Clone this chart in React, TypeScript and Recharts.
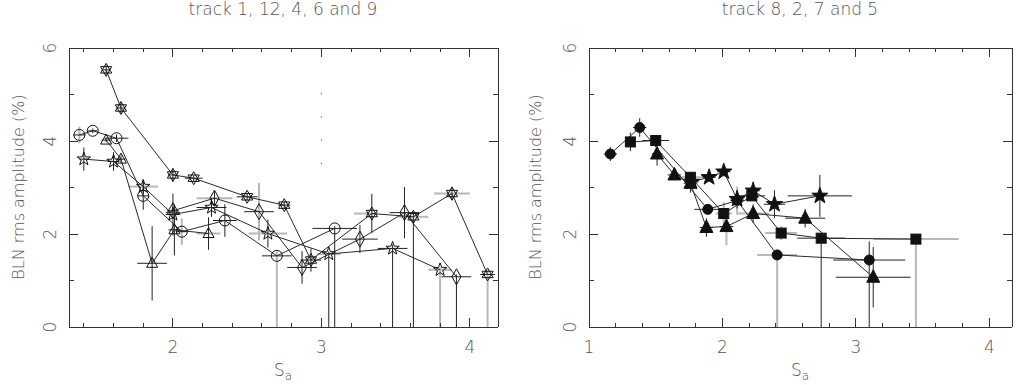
import React from "react";
import { ScatterChart, Scatter, XAxis, YAxis, ErrorBar, ReferenceLine } from "recharts";

type Pt = { x: number; y: number; ex: number | number[]; ey: number | number[]; g?: string };

// left panel: tracks 1, 12, 4, 6 and 9 (open symbols)
// g marks which error bars are drawn light grey ("x", "y" or "xy")
const hexagramTrack: Pt[] = [
  { x: 1.55, y: 5.53, ex: 0.02, ey: 0.1 },
  { x: 1.65, y: 4.71, ex: 0.02, ey: 0.12 },
  { x: 2.0, y: 3.27, ex: 0.03, ey: 0.14 },
  { x: 2.14, y: 3.2, ex: 0.06, ey: 0.06 },
  { x: 2.5, y: 2.8, ex: 0.07, ey: 0.08 },
  { x: 2.75, y: 2.62, ex: 0.04, ey: 0.08 },
  { x: 2.93, y: 1.44, ex: 0.07, ey: 0.25 },
  { x: 3.34, y: 2.44, ex: [0.12, 0.04], ey: 0.42, g: "x" },
  { x: 3.62, y: 2.37, ex: 0.1, ey: [2.37, 0.1], g: "x" },
  { x: 3.88, y: 2.87, ex: 0.12, ey: 0.15, g: "x" },
  { x: 4.12, y: 1.13, ex: 0.05, ey: [1.13, 0.08], g: "y" },
];
const circleTrack: Pt[] = [
  { x: 1.37, y: 4.13, ex: 0.04, ey: 0.18, g: "y" },
  { x: 1.46, y: 4.22, ex: 0.03, ey: 0.05 },
  { x: 1.62, y: 4.06, ex: 0.08, ey: 0.08 },
  { x: 1.8, y: 2.82, ex: 0.04, ey: 0.3 },
  { x: 2.06, y: 2.05, ex: 0.04, ey: 0.28, g: "y" },
  { x: 2.35, y: 2.29, ex: 0.08, ey: 0.35 },
  { x: 2.7, y: 1.53, ex: 0.1, ey: [1.53, 0.1], g: "y" },
  { x: 3.09, y: 2.12, ex: 0.15, ey: [2.12, 0.05] },
];
const triangleTrack: Pt[] = [
  { x: 1.55, y: 4.02, ex: 0.03, ey: 0.05 },
  { x: 1.65, y: 3.61, ex: 0.03, ey: 0.08 },
  { x: 1.86, y: 1.37, ex: 0.1, ey: 0.8 },
  { x: 2.01, y: 2.09, ex: 0.04, ey: 0.55 },
  { x: 2.24, y: 2.01, ex: 0.08, ey: 0.35, g: "x" },
];
const starTrack: Pt[] = [
  { x: 1.4, y: 3.61, ex: 0.03, ey: 0.25 },
  { x: 1.6, y: 3.56, ex: 0.04, ey: 0.2 },
  { x: 1.8, y: 3.02, ex: 0.1, ey: 0.15, g: "x" },
  { x: 2.0, y: 2.42, ex: 0.05, ey: 0.45 },
  { x: 2.26, y: 2.57, ex: 0.1, ey: 0.2 },
  { x: 2.64, y: 2.01, ex: 0.13, ey: 0.3, g: "x" },
  { x: 3.05, y: 1.57, ex: 0.08, ey: [1.57, 0.05], g: "x" },
  { x: 3.48, y: 1.69, ex: 0.1, ey: [1.69, 0.08] },
  { x: 3.8, y: 1.23, ex: 0.08, ey: [1.23, 0.05], g: "xy" },
];
const diamondTrack: Pt[] = [
  { x: 2.0, y: 2.5, ex: 0.04, ey: 0.1 },
  { x: 2.28, y: 2.77, ex: 0.12, ey: 0.15, g: "x" },
  { x: 2.58, y: 2.48, ex: 0.1, ey: 0.62, g: "y" },
  { x: 2.87, y: 1.28, ex: 0.1, ey: 0.35 },
  { x: 3.26, y: 1.89, ex: 0.12, ey: 0.3 },
  { x: 3.56, y: 2.46, ex: 0.1, ey: 0.55 },
  { x: 3.91, y: 1.08, ex: 0.1, ey: [1.08, 0.05] },
];

// right panel: tracks 8, 2, 7 and 5 (filled symbols)
const dotTrack: Pt[] = [
  { x: 1.16, y: 3.72, ex: 0.05, ey: 0.15 },
  { x: 1.38, y: 4.29, ex: 0.05, ey: 0.2 },
  { x: 1.89, y: 2.53, ex: 0.1, ey: 0.1 },
  { x: 2.11, y: 2.72, ex: 0.05, ey: 0.3, g: "y" },
  { x: 2.41, y: 1.55, ex: 0.15, ey: [1.55, 0.05], g: "xy" },
  { x: 3.1, y: 1.44, ex: 0.27, ey: [1.44, 0.4] },
];
const squareTrack: Pt[] = [
  { x: 1.31, y: 3.98, ex: 0.04, ey: 0.2 },
  { x: 1.5, y: 4.01, ex: 0.1, ey: 0.08 },
  { x: 1.76, y: 3.22, ex: 0.1, ey: 0.1, g: "x" },
  { x: 2.01, y: 2.44, ex: 0.06, ey: 0.25, g: "xy" },
  { x: 2.22, y: 2.82, ex: 0.1, ey: 0.1 },
  { x: 2.44, y: 2.02, ex: 0.12, ey: 0.15, g: "xy" },
  { x: 2.74, y: 1.91, ex: 0.18, ey: [1.91, 0.05] },
  { x: 3.45, y: 1.89, ex: 0.32, ey: [1.89, 0.05], g: "xy" },
];
const solidTriangleTrack: Pt[] = [
  { x: 1.51, y: 3.72, ex: 0.04, ey: 0.25 },
  { x: 1.64, y: 3.27, ex: 0.05, ey: 0.1 },
  { x: 1.76, y: 3.09, ex: 0.05, ey: 0.2 },
  { x: 1.88, y: 2.14, ex: 0.05, ey: 0.2 },
  { x: 2.03, y: 2.16, ex: 0.05, ey: 0.4, g: "y" },
  { x: 2.23, y: 2.44, ex: 0.12, ey: 0.2, g: "x" },
  { x: 2.62, y: 2.34, ex: 0.15, ey: 0.2 },
  { x: 3.13, y: 1.07, ex: 0.28, ey: 0.65 },
];
const solidStarTrack: Pt[] = [
  { x: 1.77, y: 3.12, ex: 0.05, ey: 0.1 },
  { x: 1.9, y: 3.22, ex: 0.05, ey: 0.1 },
  { x: 2.01, y: 3.34, ex: 0.05, ey: 0.1 },
  { x: 2.11, y: 2.75, ex: 0.05, ey: 0.2 },
  { x: 2.23, y: 2.93, ex: 0.05, ey: 0.2, g: "y" },
  { x: 2.39, y: 2.64, ex: 0.08, ey: 0.3 },
  { x: 2.73, y: 2.82, ex: 0.24, ey: 0.45 },
];

const leftXTicks = [1.4, 1.6, 1.8, 2, 2.2, 2.4, 2.6, 2.8, 3, 3.2, 3.4, 3.6, 3.8, 4];
const rightXTicks = [1, 1.2, 1.4, 1.6, 1.8, 2, 2.2, 2.4, 2.6, 2.8, 3, 3.2, 3.4, 3.6, 3.8, 4];
const yTicks = [0, 1, 2, 3, 4, 5, 6];

const W = 509;
const H = 385;
const TOP = 48;
const BOTTOM = 58;
const FONT = "'DejaVu Sans', sans-serif";
const TXT = "#555";
const INK = "#111";

const toErr = (p: Pt) => {
  const gx = (p.g || "").includes("x");
  const gy = (p.g || "").includes("y");
  return { x: p.x, y: p.y, exB: gx ? 0 : p.ex, exG: gx ? p.ex : 0, eyB: gy ? 0 : p.ey, eyG: gy ? p.ey : 0 };
};

const starPoints = (cx: number, cy: number, R: number, r: number, n: number) => {
  const pts: string[] = [];
  for (let i = 0; i < 2 * n; i++) {
    const a = -Math.PI / 2 + (i * Math.PI) / n;
    const rad = i % 2 ? r : R;
    pts.push(`${cx + rad * Math.cos(a)},${cy + rad * Math.sin(a)}`);
  }
  return pts.join(" ");
};

const open = { fill: "none", stroke: INK, strokeWidth: 1 };
const solid = { fill: INK, stroke: INK, strokeWidth: 1 };

const shapes: Record<string, (p: any) => React.ReactElement> = {
  circle: (p) => <circle cx={p.cx} cy={p.cy} r={5.5} {...open} />,
  triangle: (p) => (
    <polygon points={`${p.cx},${p.cy - 6} ${p.cx + 5.5},${p.cy + 4} ${p.cx - 5.5},${p.cy + 4}`} {...open} />
  ),
  star: (p) => <polygon points={starPoints(p.cx, p.cy, 7, 2.8, 5)} {...open} />,
  diamond: (p) => (
    <polygon points={`${p.cx},${p.cy - 8} ${p.cx + 4.5},${p.cy} ${p.cx},${p.cy + 8} ${p.cx - 4.5},${p.cy}`} {...open} />
  ),
  hexagram: (p) => (
    <g {...open}>
      <polygon points={`${p.cx},${p.cy - 6.5} ${p.cx + 5.6},${p.cy + 3.2} ${p.cx - 5.6},${p.cy + 3.2}`} />
      <polygon points={`${p.cx},${p.cy + 6.5} ${p.cx + 5.6},${p.cy - 3.2} ${p.cx - 5.6},${p.cy - 3.2}`} />
    </g>
  ),
  dot: (p) => <circle cx={p.cx} cy={p.cy} r={5} {...solid} />,
  square: (p) => <rect x={p.cx - 5} y={p.cy - 5} width={10} height={10} {...solid} />,
  solidTriangle: (p) => (
    <polygon points={`${p.cx},${p.cy - 7.5} ${p.cx + 6.5},${p.cy + 5} ${p.cx - 6.5},${p.cy + 5}`} {...solid} />
  ),
  solidStar: (p) => <polygon points={starPoints(p.cx, p.cy, 8.5, 3.4, 5)} {...solid} />,
};

const isMajorX = (v: number) => Math.abs(v - Math.round(v)) < 1e-6;

// left/right: plot edges (px) inside a W x H chart
function Panel({ tracks, domain, xTicks, left, right, dotted }: any) {
  const plotRight = W - right;
  const plotBottom = H - BOTTOM;
  const errors = tracks.flatMap((t: any) => t.data.map(toErr));
  const crisp = { shapeRendering: "crispEdges" as const };

  const xTick = (p: any) => {
    const v = p.payload.value;
    const major = isMajorX(v);
    const len = major ? 9 : 4;
    return (
      <g>
        <line x1={p.x} x2={p.x} y1={plotBottom} y2={plotBottom - len} stroke="#333" {...crisp} />
        <line x1={p.x} x2={p.x} y1={TOP} y2={TOP + len} stroke="#333" {...crisp} />
        {major && (
          <text x={p.x} y={plotBottom + 26} textAnchor="middle" fontSize={17} fontFamily={FONT} fontWeight={200} fill={TXT}>
            {v}
          </text>
        )}
      </g>
    );
  };

  const yTick = (p: any) => {
    const v = p.payload.value;
    const major = v % 2 === 0;
    const len = major ? 9 : 5;
    const lx = left - 13;
    return (
      <g>
        <line x1={left} x2={left + len} y1={p.y} y2={p.y} stroke="#333" {...crisp} />
        <line x1={plotRight} x2={plotRight - len} y1={p.y} y2={p.y} stroke="#333" {...crisp} />
        {major && (
          <text
            x={lx}
            y={p.y}
            transform={`rotate(-90, ${lx}, ${p.y})`}
            textAnchor="middle"
            fontSize={17}
            fontFamily={FONT}
            fontWeight={200}
            fill={TXT}
          >
            {v}
          </text>
        )}
      </g>
    );
  };

  // axes get 1px of room (a 0px axis is not drawn), taken back from the margins
  return (
    <ScatterChart width={W} height={H} margin={{ top: TOP, right, bottom: BOTTOM - 1, left: left - 1 }}>
      <XAxis
        type="number"
        dataKey="x"
        domain={domain}
        allowDataOverflow
        ticks={xTicks}
        interval={0}
        height={1}
        tickSize={0}
        tickMargin={0}
        tickLine={false}
        axisLine={{ stroke: "#333", ...crisp }}
        tick={xTick}
      />
      <YAxis
        type="number"
        dataKey="y"
        domain={[0, 6]}
        allowDataOverflow
        ticks={yTicks}
        interval={0}
        width={1}
        tickSize={0}
        tickMargin={0}
        tickLine={false}
        axisLine={{ stroke: "#333", ...crisp }}
        tick={yTick}
      />
      <ReferenceLine y={6} stroke="#333" {...crisp} />
      <ReferenceLine x={domain[1]} stroke="#333" {...crisp} />
      {dotted && (
        <ReferenceLine
          segment={[
            { x: 3, y: 3.5 },
            { x: 3, y: 5.5 },
          ]}
          stroke="#777"
          strokeDasharray="1.5 21.75"
        />
      )}
      <Scatter data={errors} shape={() => <g />} isAnimationActive={false}>
        <ErrorBar dataKey="exG" direction="x" width={0} stroke="#b8b8b8" strokeWidth={2} isAnimationActive={false} />
        <ErrorBar dataKey="eyG" direction="y" width={0} stroke="#b8b8b8" strokeWidth={2} isAnimationActive={false} />
        <ErrorBar dataKey="exB" direction="x" width={0} stroke="#222" strokeWidth={1} isAnimationActive={false} />
        <ErrorBar dataKey="eyB" direction="y" width={0} stroke="#222" strokeWidth={1} isAnimationActive={false} />
      </Scatter>
      {tracks.map((t: any) => (
        <Scatter
          key={t.name}
          name={t.name}
          data={t.data}
          shape={shapes[t.marker]}
          line={{ stroke: "#2a2a2a", strokeWidth: 1 }}
          lineType="joint"
          isAnimationActive={false}
        />
      ))}
    </ScatterChart>
  );
}

const leftTracks = [
  { name: "hexagram", marker: "hexagram", data: hexagramTrack },
  { name: "circle", marker: "circle", data: circleTrack },
  { name: "triangle", marker: "triangle", data: triangleTrack },
  { name: "star", marker: "star", data: starTrack },
  { name: "diamond", marker: "diamond", data: diamondTrack },
];
const rightTracks = [
  { name: "dot", marker: "dot", data: dotTrack },
  { name: "square", marker: "square", data: squareTrack },
  { name: "solidTriangle", marker: "solidTriangle", data: solidTriangleTrack },
  { name: "solidStar", marker: "solidStar", data: solidStarTrack },
];

const labelStyle = { fontFamily: FONT, fontWeight: 200, fill: TXT } as const;

export default function App() {
  return (
    <div style={{ position: "absolute", left: 0, top: 0, width: 1018, height: 385, background: "#fff" }}>
      <div style={{ position: "absolute", left: 0, top: 0 }}>
        <Panel tracks={leftTracks} domain={[1.3, 4.19]} xTicks={leftXTicks} left={69} right={11} dotted />
      </div>
      <div style={{ position: "absolute", left: W, top: 0 }}>
        <Panel tracks={rightTracks} domain={[1, 4.17]} xTicks={rightXTicks} left={80} right={6} />
      </div>
      <svg width={1018} height={385} style={{ position: "absolute", left: 0, top: 0, pointerEvents: "none" }}>
        <text x={283} y={15} textAnchor="middle" fontSize={17} {...labelStyle}>
          track 1, 12, 4, 6 and 9
        </text>
        <text x={800} y={15} textAnchor="middle" fontSize={17} {...labelStyle}>
          track 8, 2, 7 and 5
        </text>
        <text x={24} y={187} transform="rotate(-90, 24, 187)" textAnchor="middle" fontSize={16} {...labelStyle}>
          BLN rms amplitude (%)
        </text>
        <text x={541} y={187} transform="rotate(-90, 541, 187)" textAnchor="middle" fontSize={16} {...labelStyle}>
          BLN rms amplitude (%)
        </text>
        <text x={283} y={376} textAnchor="middle" fontSize={17} {...labelStyle}>
          S<tspan fontSize={12} dy={4}>a</tspan>
        </text>
        <text x={800} y={376} textAnchor="middle" fontSize={17} {...labelStyle}>
          S<tspan fontSize={12} dy={4}>a</tspan>
        </text>
      </svg>
    </div>
  );
}
